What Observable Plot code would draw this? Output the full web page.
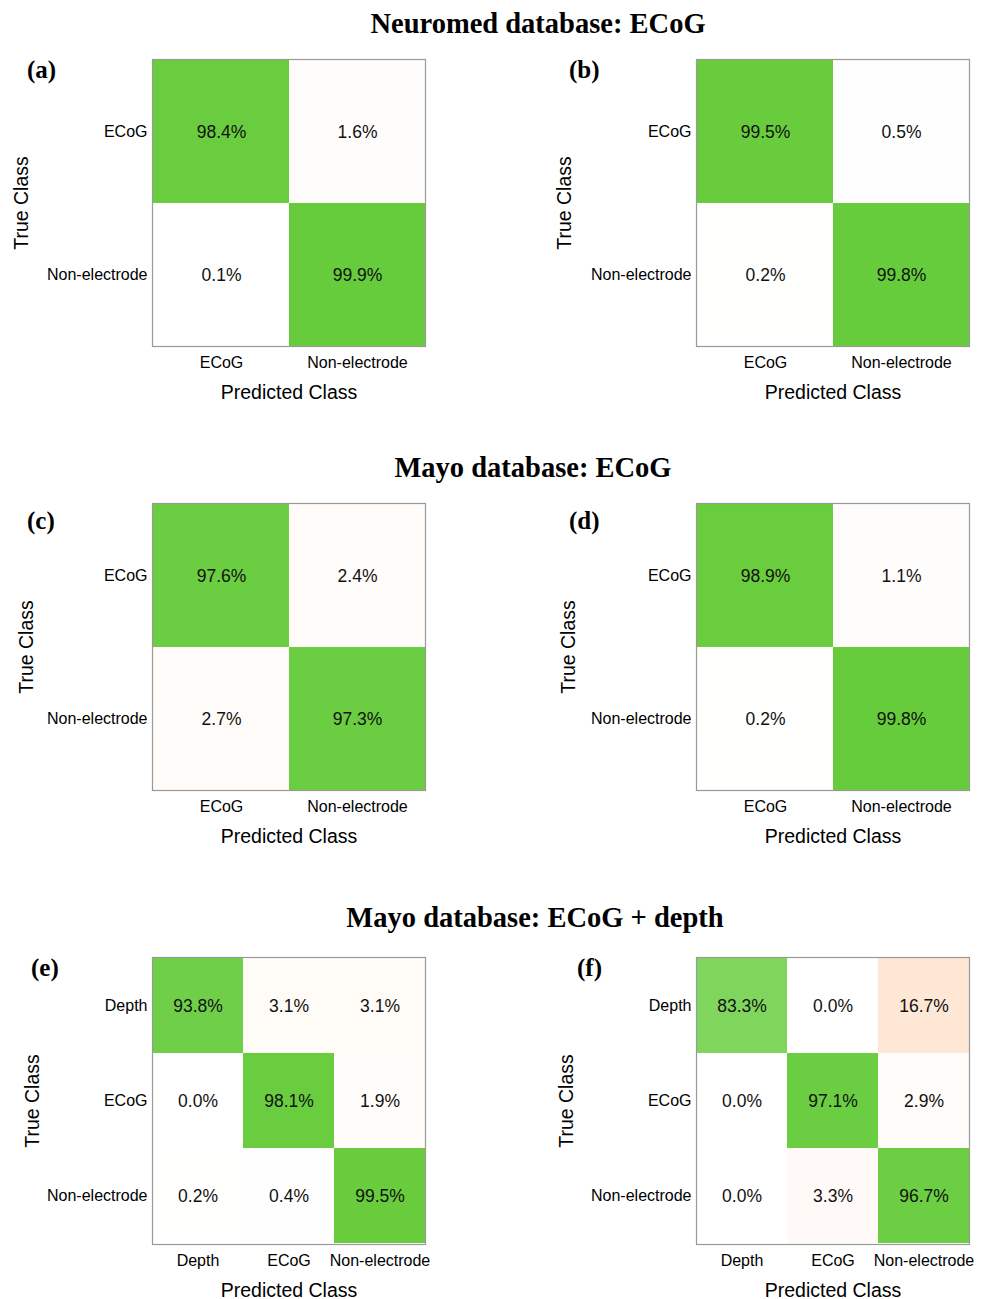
<!DOCTYPE html>
<html>
<head>
<meta charset="utf-8">
<script src="https://cdn.jsdelivr.net/npm/d3@7"></script>
<script src="https://cdn.jsdelivr.net/npm/@observablehq/plot@0.6"></script>
<style>
  html, body { margin: 0; padding: 0; background: #fff; overflow: hidden; }
  #root { position: relative; width: 987px; height: 1299px; }
  .title { position: absolute; font-family: "Liberation Serif", "Times New Roman", serif; font-weight: bold; font-size: 28.5px; white-space: nowrap; transform: translate(-50%, -50%); color: #000; }
  .plabel { position: absolute; font-family: "Liberation Serif", "Times New Roman", serif; font-weight: bold; font-size: 25px; white-space: nowrap; transform: translateY(-50%); color: #000; }
  .panel { position: absolute; }
</style>
</head>
<body>
<div id="root"></div>
<script>
// ---- data ----
const classes2 = ["ECoG", "Non-electrode"];
const classes3 = ["Depth", "ECoG", "Non-electrode"];

const valuesA = [[98.4, 1.6], [0.1, 99.9]];
const valuesB = [[99.5, 0.5], [0.2, 99.8]];
const valuesC = [[97.6, 2.4], [2.7, 97.3]];
const valuesD = [[98.9, 1.1], [0.2, 99.8]];
const valuesE = [[93.8, 3.1, 3.1], [0.0, 98.1, 1.9], [0.2, 0.4, 99.5]];
const valuesF = [[83.3, 0.0, 16.7], [0.0, 97.1, 2.9], [0.0, 3.3, 96.7]];

const sectionTitles = ["Neuromed database: ECoG", "Mayo database: ECoG", "Mayo database: ECoG + depth"];
const panelLabels = ["(a)", "(b)", "(c)", "(d)", "(e)", "(f)"];

// ---- layout ----
const root = document.getElementById("root");
const W = 440, H = 362, MT = 9, ML = 152, MR = 15, MB = H - MT - 287;

function addTitle(text, cx, cy) {
  const d = document.createElement("div");
  d.className = "title"; d.textContent = text;
  d.style.left = cx + "px"; d.style.top = cy + "px";
  root.appendChild(d);
}
function addPanelLabel(text, x, cy) {
  const d = document.createElement("div");
  d.className = "plabel"; d.textContent = text;
  d.style.left = x + "px"; d.style.top = cy + "px";
  root.appendChild(d);
}

function panel(classes, values, frameLeft, frameTop, yLabelOffset) {
  const data = [];
  classes.forEach((r, i) => classes.forEach((c, j) => {
    const v = values[i][j];
    data.push({ r, c, v, s: i === j ? v : -v });
  }));
  const plot = Plot.plot({
    width: W, height: H,
    marginLeft: ML, marginRight: MR, marginTop: MT, marginBottom: MB,
    x: { domain: classes, padding: 0 },
    y: { domain: classes, padding: 0 },
    color: { type: "linear", domain: [-100, 0, 100], range: ["#f96f04", "#ffffff", "#67cc3c"], interpolate: "rgb" },
    style: { fontFamily: "'Liberation Sans', Arial, Helvetica, sans-serif", color: "#000", background: "transparent" },
    marks: [
      Plot.cell(data, { x: "c", y: "r", fill: "s", inset: 0 }),
      Plot.text(data, { x: "c", y: "r", text: d => d.v.toFixed(1) + "%", fontSize: 17.5, fill: "#111" }),
      Plot.frame({ stroke: "#999", strokeWidth: 1.2 }),
      Plot.axisX({ tickSize: 0, tickPadding: 10, fontSize: 16, label: "Predicted Class", labelAnchor: "center", labelOffset: 52, labelArrow: "none" }),
      Plot.axisY({ tickSize: 0, tickPadding: 5, fontSize: 16, label: "True Class", labelAnchor: "center", labelOffset: yLabelOffset, labelArrow: "none" })
    ]
  });
  plot.querySelectorAll('[aria-label="x-axis label"], [aria-label="y-axis label"]').forEach(g => {
    g.style.fontSize = "19.5px";
  });
  const wrap = document.createElement("div");
  wrap.className = "panel";
  wrap.style.left = (frameLeft - ML) + "px";
  wrap.style.top = (frameTop - MT) + "px";
  wrap.appendChild(plot);
  root.appendChild(wrap);
}

addTitle(sectionTitles[0], 538, 24);
addTitle(sectionTitles[1], 533, 468);
addTitle(sectionTitles[2], 535, 918);

panel(classes2, valuesA, 152, 59, 138);
panel(classes2, valuesB, 696, 59, 139);
panel(classes2, valuesC, 152, 503, 133);
panel(classes2, valuesD, 696, 503, 135);
panel(classes3, valuesE, 152, 957, 127);
panel(classes3, valuesF, 696, 957, 137);

addPanelLabel(panelLabels[0], 27, 70);
addPanelLabel(panelLabels[1], 569, 70);
addPanelLabel(panelLabels[2], 27, 521);
addPanelLabel(panelLabels[3], 569, 521);
addPanelLabel(panelLabels[4], 31, 968);
addPanelLabel(panelLabels[5], 577, 968);
</script>
</body>
</html>
